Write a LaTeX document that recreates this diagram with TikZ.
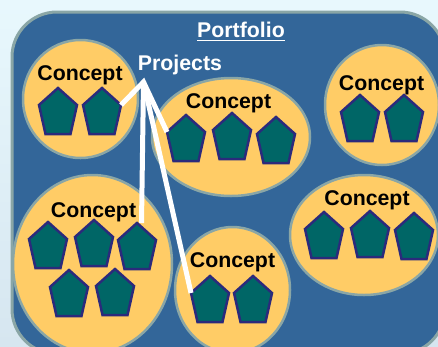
\documentclass[tikz,border=0pt]{standalone}
\usepackage{fontspec}
\setmainfont{Liberation Sans}
\usetikzlibrary{shapes.geometric}
\definecolor{bgtop}{HTML}{E8F8FD}
\definecolor{bgbot}{HTML}{D6E6F0}
\definecolor{pfblue}{HTML}{336699}
\definecolor{pfedge}{HTML}{8AA6A6}
\definecolor{cfill}{HTML}{FFCC66}
\definecolor{pteal}{HTML}{006666}
\definecolor{pnavy}{HTML}{2B2A7C}
\tikzset{
  concept/.style={ellipse, draw=pfedge, line width=2.5pt, fill=cfill, inner sep=0pt},
  ctext/.style={anchor=base, font=\fontsize{21.3}{24}\selectfont\bfseries, text=black, inner sep=0pt},
  wtext/.style={anchor=base, font=\fontsize{21.3}{24}\selectfont\bfseries, text=white, inner sep=0pt},
  link/.style={draw=white, line width=5pt},
  pent/.pic={
    \draw[fill=pteal, draw=pnavy, line width=2.5pt, line join=miter]
      (0,0) -- (19,17) -- (12.5,46) -- (-12.5,46) -- (-19,17) -- cycle;
    \coordinate (-top) at (0,0);
    \coordinate (-rs) at (19,17);
    \coordinate (-ls) at (-19,17);
  }
}
\begin{document}
\begin{tikzpicture}[x=1pt,y=-1pt]
\useasboundingbox (0,0) rectangle (438,346);
\shade[top color=bgtop, bottom color=bgbot] (0,0) rectangle (438,346);
\begin{scope}
\clip (0,0) rectangle (438,346);
\draw[fill=pfblue, draw=pfedge, line width=3pt, rounded corners=45pt] (12,12) rectangle (445,354);

% concept ellipses
\node[concept, minimum width=115pt, minimum height=118pt] (e1) at (80.5,99) {};
\node[concept, minimum width=158pt, minimum height=118pt] (e2) at (231,137) {};
\node[concept, minimum width=114pt, minimum height=120pt] (e3) at (382,105) {};
\node[concept, minimum width=159pt, minimum height=178pt] (e4) at (92.5,264) {};
\node[concept, minimum width=115pt, minimum height=126pt] (e5) at (232.5,290) {};
\node[concept, minimum width=148pt, minimum height=120pt] (e6) at (364,235) {};

% labels
\node[ctext] (l1) at (80,80) {Concept};
\node[ctext] (l2) at (228.5,108) {Concept};
\node[ctext] (l3) at (381.5,90) {Concept};
\node[ctext] (l4) at (93.5,217) {Concept};
\node[ctext] (l5) at (232.5,267) {Concept};
\node[ctext] (l6) at (367,205) {Concept};
\node[wtext] (proj) at (180,70) {Projects};
\node[wtext] (port) at (241,37) {Portfolio};
\path (port.base west) ++(0,3.5) coordinate (ul1)
  (port.base east) ++(0,3.5) coordinate (ul2);
\draw[white, line width=1.6pt] (ul1) -- (ul2);

% projects (pentagons)
\pic (p1a) at (58,88) {pent};
\pic (p1b) at (102,88) {pent};
\pic (p2a) at (186,115) {pent};
\pic (p2b) at (232,113) {pent};
\pic (p2c) at (276,117) {pent};
\pic (p3a) at (360,95) {pent};
\pic (p3b) at (404,95) {pent};
\pic (p4a) at (48,222) {pent};
\pic (p4b) at (94,220) {pent};
\pic (p4c) at (137,223) {pent};
\pic (p4d) at (69,270) {pent};
\pic (p4e) at (115,269) {pent};
\pic (p5a) at (210,276) {pent};
\pic (p5b) at (253,276) {pent};
\pic (p6a) at (324,212) {pent};
\pic (p6b) at (370,211) {pent};
\pic (p6c) at (414,213) {pent};

% connectors
\coordinate (hub) at (143.5,82);
\coordinate (v1) at (141.5,223);
\draw[link, line join=miter] (p1b-rs) -- (hub) -- (p2a-ls);
\draw[link] (hub) -- (v1);
\draw[link] (hub) -- (p5a-ls);
\end{scope}
\end{tikzpicture}
\end{document}
